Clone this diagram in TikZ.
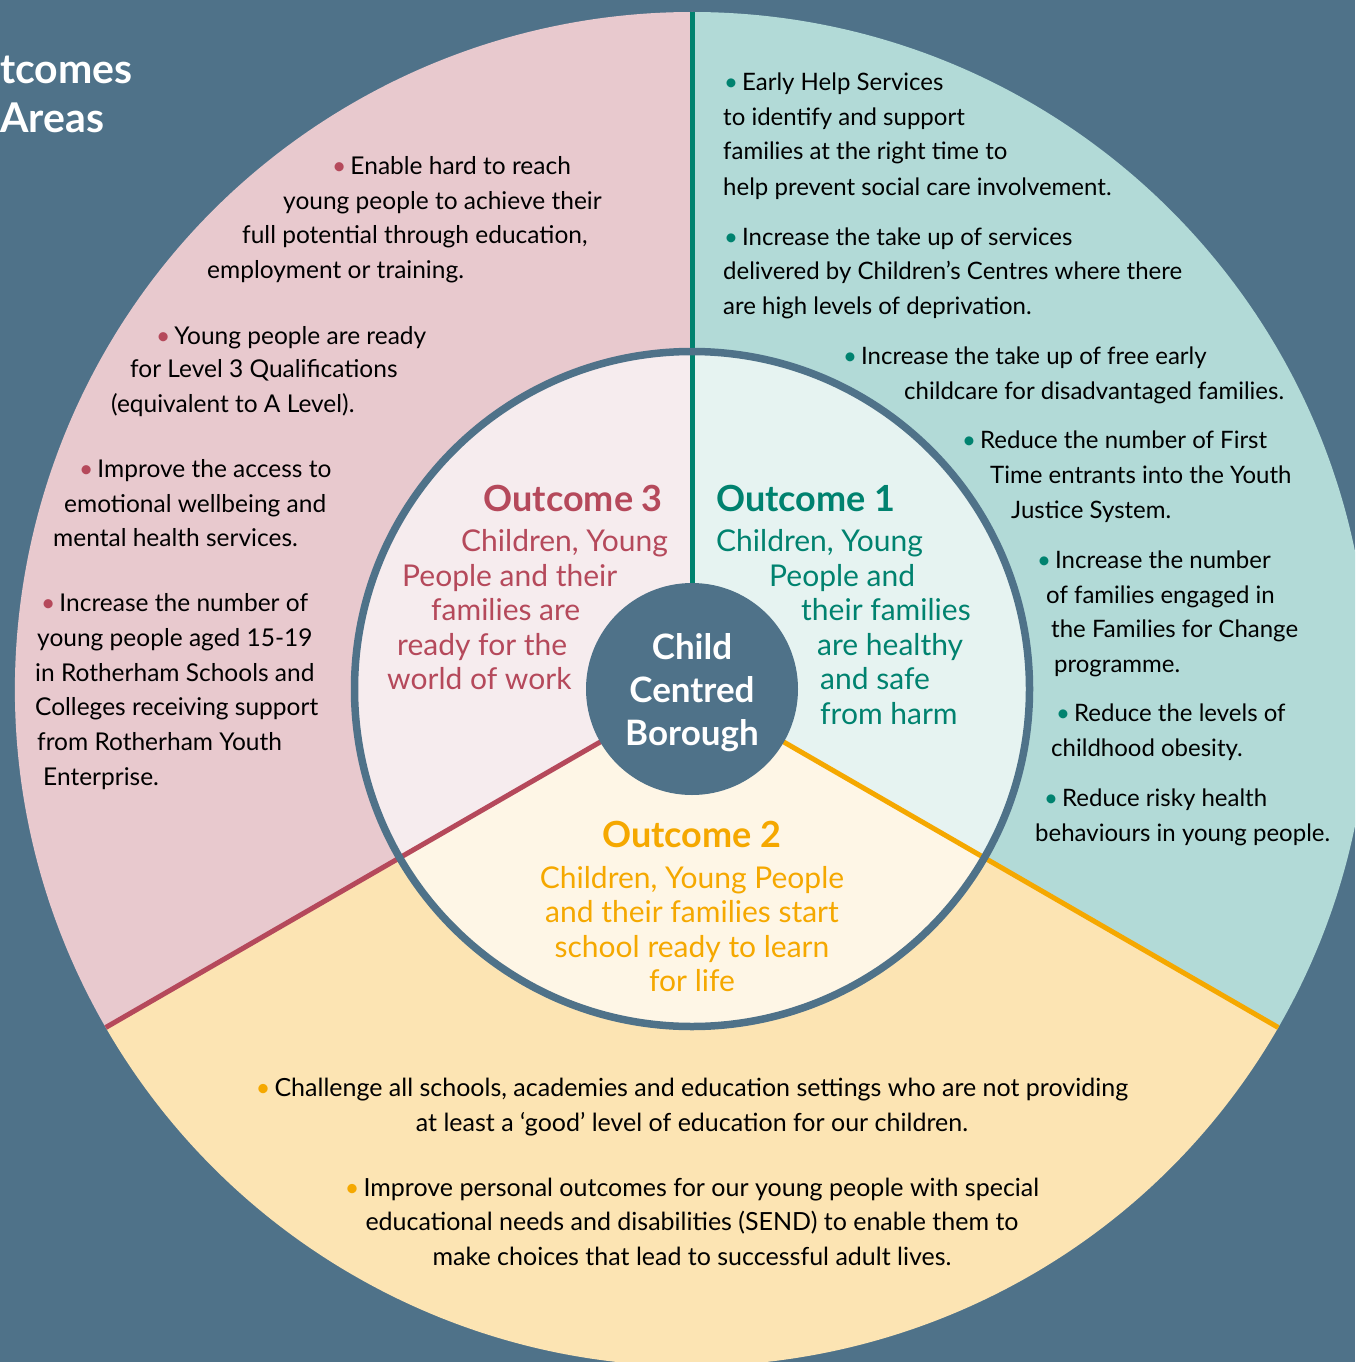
\documentclass[tikz,border=0pt]{standalone}
\usepackage{fontspec}
\setmainfont{Lato}
\usetikzlibrary{calc}
\definecolor{slate}{HTML}{4F7289}
\definecolor{pinkS}{HTML}{E8C9CE}
\definecolor{tealS}{HTML}{B2DAD7}
\definecolor{yelS}{HTML}{FCE4B3}
\definecolor{pinkI}{HTML}{F6ECEE}
\definecolor{tealI}{HTML}{E6F3F1}
\definecolor{yelI}{HTML}{FEF6E6}
\definecolor{redc}{HTML}{B5495B}
\definecolor{tealc}{HTML}{00826F}
\definecolor{orac}{HTML}{F5A800}
\newcommand\bl[1]{{\color{#1}•}\,}
\tikzset{
  body/.style={font=\fontsize{24}{29}\selectfont, text=black, inner sep=0pt, anchor=base west},
  bodyp/.style={body, font=\fontsize{24.5}{29}\selectfont},
  bodyc/.style={body, font=\fontsize{25}{29}\selectfont, anchor=base},
  otitle/.style={font=\fontsize{36}{40}\bfseries\selectfont, inner sep=0pt, anchor=base west},
  otext/.style={font=\fontsize{30}{35}\selectfont, inner sep=0pt, anchor=base west},
  hubtext/.style={font=\fontsize{35}{43}\bfseries\selectfont, text=white, inner sep=0pt, anchor=base},
  titletext/.style={font=\fontsize{41}{48}\bfseries\selectfont, text=white, inner sep=0pt, anchor=base west},
  divline/.style={line width=5pt},
}
\newcommand\Tx[4]{\node[body] (#1) at (#2,#3) {#4};}
\newcommand\Tp[4]{\node[bodyp] (#1) at (#2,#3) {#4};}
\newcommand\Tc[4]{\node[bodyc] (#1) at (#2,#3) {#4};}
\begin{document}
\begin{tikzpicture}[x=1pt,y=-1pt]
\useasboundingbox (0,0) rectangle (1355,1362);
\clip (0,0) rectangle (1355,1362);
\fill[slate] (0,0) rectangle (1355,1362);
\coordinate (C) at (692,689);
% outer sectors
\fill[pinkS] (C) -- ++(150:677) arc[start angle=150, end angle=270, radius=677] -- cycle;
\fill[tealS] (C) -- ++(270:677) arc[start angle=270, end angle=390, radius=677] -- cycle;
\fill[yelS] (C) -- ++(30:677) arc[start angle=30, end angle=150, radius=677] -- cycle;
% inner sectors
\fill[pinkI] (C) -- ++(150:337) arc[start angle=150, end angle=270, radius=337] -- cycle;
\fill[tealI] (C) -- ++(270:337) arc[start angle=270, end angle=390, radius=337] -- cycle;
\fill[yelI] (C) -- ++(30:337) arc[start angle=30, end angle=150, radius=337] -- cycle;
% divider end points
\coordinate (ptop) at ($(C)+(270:677)$);
\coordinate (pleft) at ($(C)+(150:677)$);
\coordinate (pright) at ($(C)+(30:677)$);
\draw[divline, tealc] (C) -- (ptop);
\draw[divline, redc] (C) -- (pleft);
\draw[divline, orac] (C) -- (pright);
% inner ring
\node[circle, draw=slate, line width=7.5pt, minimum size=675pt, inner sep=0pt] (ring) at (C) {};
% hub
\node[circle, fill=slate, minimum size=212pt, inner sep=0pt] (hub) at (C) {};
\node[hubtext] (hub1) at (692,659) {Child};
\node[hubtext] (hub2) at (692,702) {Centred};
\node[hubtext] (hub3) at (692,745) {Borough};
% title
\node[titletext] (tt1) at (0,84) {tcomes};
\node[titletext] (tt2) at (0,132) {Areas};
% pink bullets
\Tp{p1}{332}{174}{\bl{redc}Enable hard to reach}
\Tp{p2}{283}{209}{young people to achieve their}
\Tp{p3}{242}{243}{full potential through education,}
\Tp{p4}{207}{278}{employment or training.}
\Tp{p5}{156}{344}{\bl{redc}Young people are ready}
\Tp{p6}{130}{377}{for Level 3 Qualifications}
\Tp{p7}{111}{412}{(equivalent to A Level).}
\Tp{p8}{79}{477}{\bl{redc}Improve the access to}
\Tp{p9}{64}{512}{emotional wellbeing and}
\Tp{p10}{53}{546}{mental health services.}
\Tp{p11}{41}{611}{\bl{redc}Increase the number of}
\Tp{p12}{37}{646}{young people aged 15-19}
\Tp{p13}{35}{681}{in Rotherham Schools and}
\Tp{p14}{35}{715}{Colleges receiving support}
\Tp{p15}{37}{750}{from Rotherham Youth}
\Tp{p16}{43}{785}{Enterprise.}
% teal bullets
\Tx{g1}{724}{91}{\bl{tealc}Early Help Services}
\Tx{g2}{723}{126}{to identify and support}
\Tx{g3}{723}{160}{families at the right time to}
\Tx{g4}{723}{195}{help prevent social care involvement.}
\Tx{g5}{724}{245}{\bl{tealc}Increase the take up of services}
\Tx{g6}{723}{279}{delivered by Children’s Centres where there}
\Tx{g7}{723}{314}{are high levels of deprivation.}
\Tx{g8}{843}{364}{\bl{tealc}Increase the take up of free early}
\Tx{g9}{904}{399}{childcare for disadvantaged families.}
\Tx{g10}{962}{448}{\bl{tealc}Reduce the number of First}
\Tx{g11}{990}{483}{Time entrants into the Youth}
\Tx{g12}{1011}{518}{Justice System.}
\Tx{g13}{1037}{568}{\bl{tealc}Increase the number}
\Tx{g14}{1046}{603}{of families engaged in}
\Tx{g15}{1051}{637}{the Families for Change}
\Tx{g16}{1054}{672}{programme.}
\Tx{g17}{1056}{721}{\bl{tealc}Reduce the levels of}
\Tx{g18}{1051}{756}{childhood obesity.}
\Tx{g19}{1044}{806}{\bl{tealc}Reduce risky health}
\Tx{g20}{1035}{841}{behaviours in young people.}
% bottom bullets
\Tc{y1}{692}{1096}{\bl{orac}Challenge all schools, academies and education settings who are not providing}
\Tc{y2}{692}{1131}{at least a ‘good’ level of education for our children.}
\Tc{y3}{692}{1196}{\bl{orac}Improve personal outcomes for our young people with special}
\Tc{y4}{692}{1230}{educational needs and disabilities (SEND) to enable them to}
\Tc{y5}{692}{1265}{make choices that lead to successful adult lives.}
% outcome 3
\node[otitle, text=redc, anchor=base east] (o3) at (663,511) {Outcome 3};
\node[otext, text=redc] (o3a) at (461,551) {Children, Young};
\node[otext, text=redc] (o3b) at (402,586) {People and their};
\node[otext, text=redc] (o3c) at (431,620) {families are};
\node[otext, text=redc] (o3d) at (397,655) {ready for the};
\node[otext, text=redc] (o3e) at (387,689) {world of work};
% outcome 1
\node[otitle, text=tealc] (o1) at (716,511) {Outcome 1};
\node[otext, text=tealc] (o1a) at (716,551) {Children, Young};
\node[otext, text=tealc] (o1b) at (769,586) {People and};
\node[otext, text=tealc] (o1c) at (801,620) {their families};
\node[otext, text=tealc] (o1d) at (817,655) {are healthy};
\node[otext, text=tealc] (o1e) at (820,689) {and safe};
\node[otext, text=tealc] (o1f) at (820,724) {from harm};
% outcome 2
\node[otitle, text=orac, anchor=base] (o2) at (692,847) {Outcome 2};
\node[otext, text=orac, anchor=base] (o2a) at (692,888) {Children, Young People};
\node[otext, text=orac, anchor=base] (o2b) at (692,922) {and their families start};
\node[otext, text=orac, anchor=base] (o2c) at (692,957) {school ready to learn};
\node[otext, text=orac, anchor=base] (o2d) at (692,991) {for life};
\end{tikzpicture}
\end{document}
